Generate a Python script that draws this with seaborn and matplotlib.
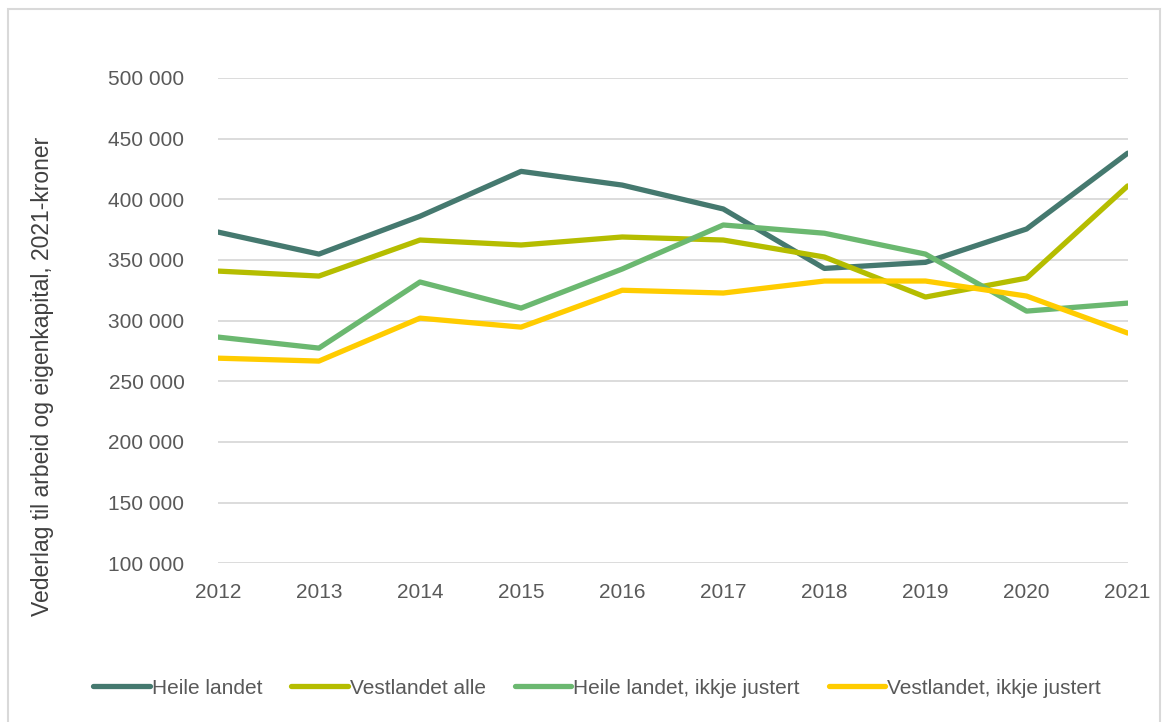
import matplotlib
matplotlib.use("Agg")
import matplotlib.pyplot as plt
import seaborn as sns
import pandas as pd
from matplotlib.patches import Rectangle
from matplotlib.ticker import FuncFormatter
from matplotlib import font_manager

years = [2012, 2013, 2014, 2015, 2016, 2017, 2018, 2019, 2020, 2021]
heile_landet = [373000, 354800, 386000, 423000, 411700, 392000, 343000, 348000, 375500, 438000]
vestlandet_alle = [340800, 336700, 366400, 362300, 368900, 366400, 352400, 319400, 335000, 411000]
heile_ikkje = [286400, 277300, 331800, 310300, 342500, 378800, 372000, 354800, 307800, 314400]
vest_ikkje = [269000, 266600, 302000, 294600, 325000, 322700, 332600, 332600, 320200, 289700]

series_names = ["Heile landet", "Vestlandet alle", "Heile landet, ikkje justert", "Vestlandet, ikkje justert"]
colors = ["#45796F", "#B5BD00", "#6BB870", "#FFCC00"]

df = pd.DataFrame({"Year": years * 4,
                   "Value": heile_landet + vestlandet_alle + heile_ikkje + vest_ikkje,
                   "Serie": sum([[n] * len(years) for n in series_names], [])})

sns.set_theme(style="white")
plt.rcParams['font.family'] = ['Liberation Sans', 'DejaVu Sans']

installed = {f.name for f in font_manager.fontManager.ttflist}
legend_family = 'Liberation Sans Narrow' if 'Liberation Sans Narrow' in installed else 'Liberation Sans'
narrow = legend_family == 'Liberation Sans Narrow'

fig = plt.figure(figsize=(11.71, 7.22), dpi=100)
ax = fig.add_axes([0.186, 0.220, 0.777, 0.672])

sns.lineplot(data=df, x="Year", y="Value", hue="Serie", hue_order=series_names,
             palette=colors, linewidth=3.8, ax=ax, legend=True)

ax.set_xlim(2012, 2021)
ax.set_ylim(100000, 500000)
ax.set_yticks(range(100000, 500001, 50000))
ax.set_xticks(years)
ax.yaxis.set_major_formatter(FuncFormatter(lambda v, p: f"{int(v):,}".replace(",", " ")))
ax.grid(axis="y", color="#D9D9D9", linewidth=1.3)
ax.set_axisbelow(True)
for s in ax.spines.values():
    s.set_visible(False)
ax.tick_params(axis="both", colors="#595959", labelsize=15, length=0)
ax.tick_params(axis="y", pad=24)
ax.tick_params(axis="x", pad=14)
ax.set_xlabel("")
ax.set_ylabel("Vederlag til arbeid og eigenkapital, 2021-kroner", fontsize=16.5, color="#404040")
ax.yaxis.set_label_coords(-0.180, 0.386)

handles, labels = ax.get_legend_handles_labels()
ax.get_legend().remove()
if narrow:
    leg_kw = dict(fontsize=18, handlelength=2.4, handletextpad=0.1, columnspacing=0.8)
else:
    leg_kw = dict(fontsize=15, handlelength=2.7, handletextpad=0.1, columnspacing=1.4)
fig.legend(handles, labels, loc="center", bbox_to_anchor=(0.510, 0.047), ncol=4, frameon=False,
           labelcolor="#595959", prop={'family': legend_family, 'size': leg_kw.pop('fontsize')},
           **leg_kw)

fig.patches.append(Rectangle((0.007, -0.01), 0.984, 0.997, transform=fig.transFigure,
                             fill=False, edgecolor="#D9D9D9", linewidth=1.5))

fig.savefig("out.png", dpi=100, facecolor="white")
